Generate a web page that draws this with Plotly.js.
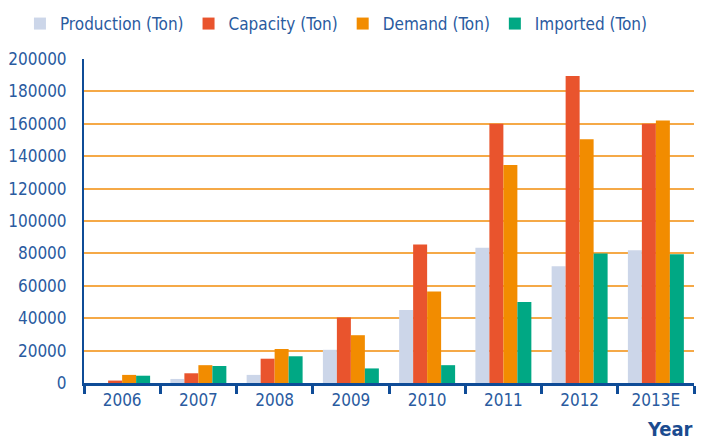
<!DOCTYPE html>
<html>
<head>
<meta charset="utf-8">
<script src="https://cdn.plot.ly/plotly-3.0.1.min.js"></script>
<style>html,body{margin:0;padding:0;background:#fff;}#chart{width:727px;height:441px;}</style>
</head>
<body>
<div id="chart"></div>
<script>
const years = ["2006", "2007", "2008", "2009", "2010", "2011", "2012", "2013E"];
const production = [0, 2500, 5000, 20500, 45000, 83500, 72000, 82000];
const capacity = [1500, 6000, 15000, 40500, 85500, 160000, 189500, 160000];
const demand = [5000, 11000, 21000, 29500, 56500, 134500, 150500, 162000];
const imported = [4500, 10500, 16500, 9000, 11000, 50000, 80000, 79500];
const seriesNames = ["Production (Ton)", "Capacity (Ton)", "Demand (Ton)", "Imported (Ton)"];
const seriesColors = ["#CCD6E9", "#E9542D", "#F28C00", "#00A884"];
const yTicks = [0, 20000, 40000, 60000, 80000, 100000, 120000, 140000, 160000, 180000, 200000];

const textColor = "#2A5B9F";
const navy = "#0F4C97";
const font = "'DejaVu Sans Condensed', 'Liberation Sans', sans-serif";

const values = [production, capacity, demand, imported];
const traces = values.map((v, i) => ({
  type: "bar",
  name: seriesNames[i],
  x: years,
  y: v,
  marker: {color: seriesColors[i], line: {width: 0}},
  hoverinfo: "x+y+name"
}));

const layout = {
  width: 727, height: 441,
  margin: {l: 84, r: 33, t: 59, b: 58, autoexpand: false},
  paper_bgcolor: "#fff", plot_bgcolor: "#fff",
  barmode: "group", bargap: 0.266, bargroupgap: 0,
  font: {family: font, color: textColor, size: 17},
  showlegend: true,
  legend: {
    orientation: "h", x: -0.105, y: 1.108, xref: "paper", yref: "paper",
    xanchor: "left", yanchor: "middle",
    font: {family: font, size: 17, color: textColor},
    itemwidth: 30, tracegroupgap: 0, traceorder: "normal",
    bgcolor: "rgba(0,0,0,0)"
  },
  xaxis: {
    type: "category",
    showline: true, linecolor: navy, linewidth: 3,
    ticks: "outside", tickson: "boundaries", ticklen: 8, tickwidth: 3, tickcolor: navy,
    tickfont: {family: font, size: 17, color: textColor},
    showgrid: false, zeroline: false, fixedrange: true
  },
  yaxis: {
    range: [0, 200000],
    tickvals: yTicks, ticktext: yTicks.map(String),
    showline: true, linecolor: navy, linewidth: 2,
    ticks: "", ticklabelstandoff: 12,
    tickfont: {family: font, size: 17, color: textColor},
    showgrid: true, gridcolor: "#F5A947", gridwidth: 2,
    zeroline: false, fixedrange: true
  },
  annotations: [{
    text: "<b>Year</b>", xref: "paper", yref: "paper",
    x: 1.002, y: -0.141, xanchor: "right", yanchor: "middle",
    showarrow: false, font: {family: font, size: 20, color: "#1B4B8F"}
  }]
};

Plotly.newPlot("chart", traces, layout, {displayModeBar: false, staticPlot: true});
</script>
</body>
</html>
